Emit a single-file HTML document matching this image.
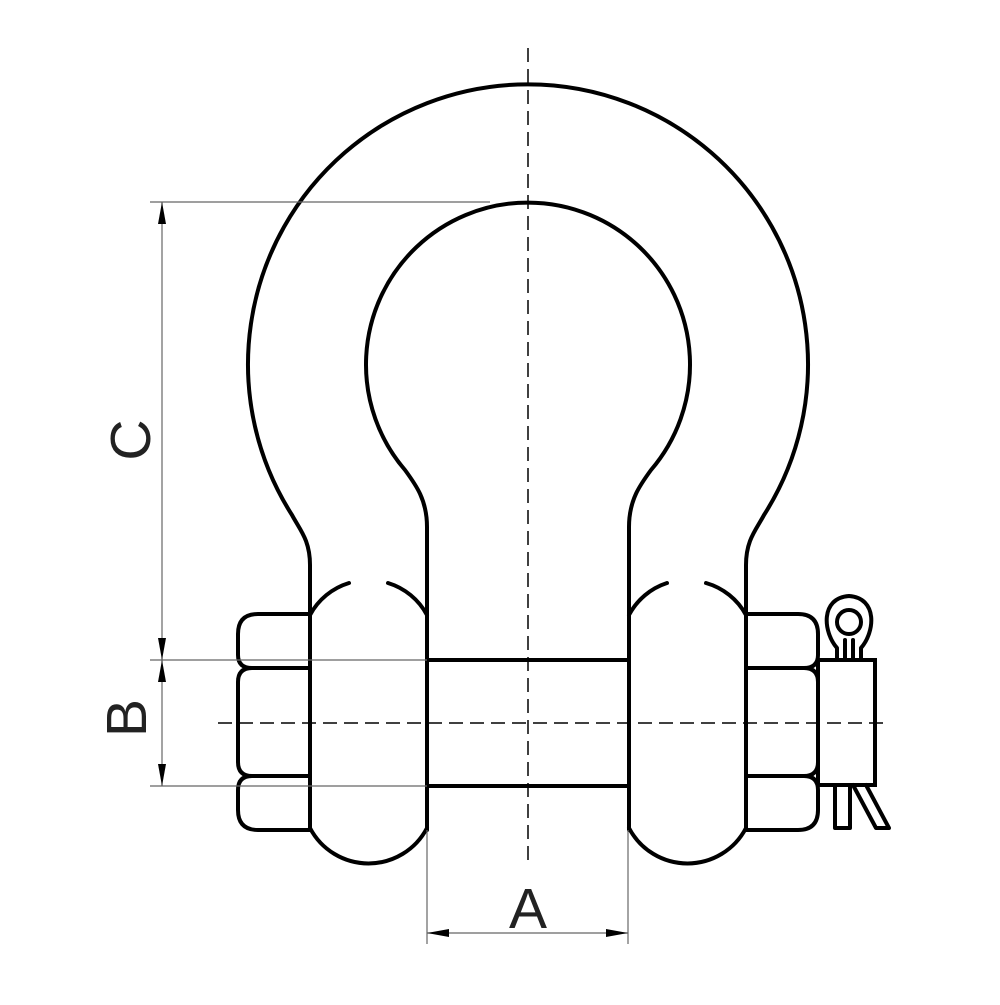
<!DOCTYPE html>
<html><head><style>html,body{margin:0;padding:0;background:#fff}</style></head>
<body>
<svg width="1000" height="1000" viewBox="0 0 1000 1000" xmlns="http://www.w3.org/2000/svg">
<g fill="none" stroke="#000" stroke-width="4" stroke-linecap="round" stroke-linejoin="round">
<path d="M310,615 L310,565 C310,540 300,530 292,515 A280,280 0 1 1 764,515 C756,530 746,540 746,565 L746,615"/>
<path d="M427,830 L427,527 C427,500 416,485 405,470 A162,162 0 1 1 651,470 C640,485 629,500 629,527 L629,830"/>
<path d="M310,615 L310,828 M427,828 A66,66 0 0 1 310,828"/>
<path d="M310,615 A66,66 0 0 1 349,583"/>
<path d="M388,583 A66,66 0 0 1 427,615"/>
<path d="M629,615 L629,828 M746,615 L746,828 M746,828 A66,66 0 0 1 629,828"/>
<path d="M629,615 A66,66 0 0 1 667,583"/>
<path d="M706,583 A66,66 0 0 1 746,615"/>
<path d="M427,660 L629,660 M427,786 L629,786"/>
<path d="M310,614 L258,614 Q238,614 238,634 L238,655 Q238,668 252,668 L310,668"/>
<path d="M252,668 Q238,668 238,682 L238,762 Q238,776 252,776 L310,776"/>
<path d="M252,776 Q238,776 238,790 L238,810 Q238,830 258,830 L310,830"/>
<path d="M746,614 L798,614 Q818,614 818,634 L818,655 Q818,668 804,668 L746,668"/>
<path d="M804,668 Q818,668 818,682 L818,762 Q818,776 804,776 L746,776"/>
<path d="M804,776 Q818,776 818,790 L818,810 Q818,830 798,830 L746,830"/>
<rect x="818" y="660" width="57" height="125" stroke-linejoin="miter"/>
<path d="M837,660 L837,648 C823,632 820,598 849,596 C878,598 875,632 861,648 L861,660"/>
<path d="M845,660 L845,640 M853,660 L853,640"/>
<circle cx="849" cy="622" r="12"/>
<path d="M835,785 L835,828 L850,828 L850,785"/>
<path d="M853,785 L876,828 L889,828 L866,785"/>
</g>
<g stroke="#000" stroke-width="1.5" stroke-dasharray="14,7">
<line x1="528" y1="48" x2="528" y2="862"/>
<line x1="218" y1="723" x2="886" y2="723"/>
</g>
<g stroke="#666" stroke-width="1.2">
<line x1="150" y1="202" x2="490" y2="202"/>
<line x1="150" y1="660" x2="427" y2="660"/>
<line x1="150" y1="786" x2="427" y2="786"/>
<line x1="162" y1="202" x2="162" y2="786"/>
<line x1="427" y1="830" x2="427" y2="944"/>
<line x1="628" y1="830" x2="628" y2="944"/>
<line x1="427" y1="933" x2="628" y2="933"/>
</g>
<g fill="#000">
<polygon points="162,202 158,224 166,224"/>
<polygon points="162,660 158,638 166,638"/>
<polygon points="162,660 158,682 166,682"/>
<polygon points="162,786 158,764 166,764"/>
<polygon points="427,933 449,929 449,937"/>
<polygon points="628,933 606,929 606,937"/>
</g>
<g font-family="Liberation Sans, sans-serif" font-size="57" fill="#222" text-anchor="middle">
<text x="528" y="928">A</text>
<text transform="translate(150,440) rotate(-90)">C</text>
<text transform="translate(146,718) rotate(-90)">B</text>
</g>
</svg>
</body></html>
